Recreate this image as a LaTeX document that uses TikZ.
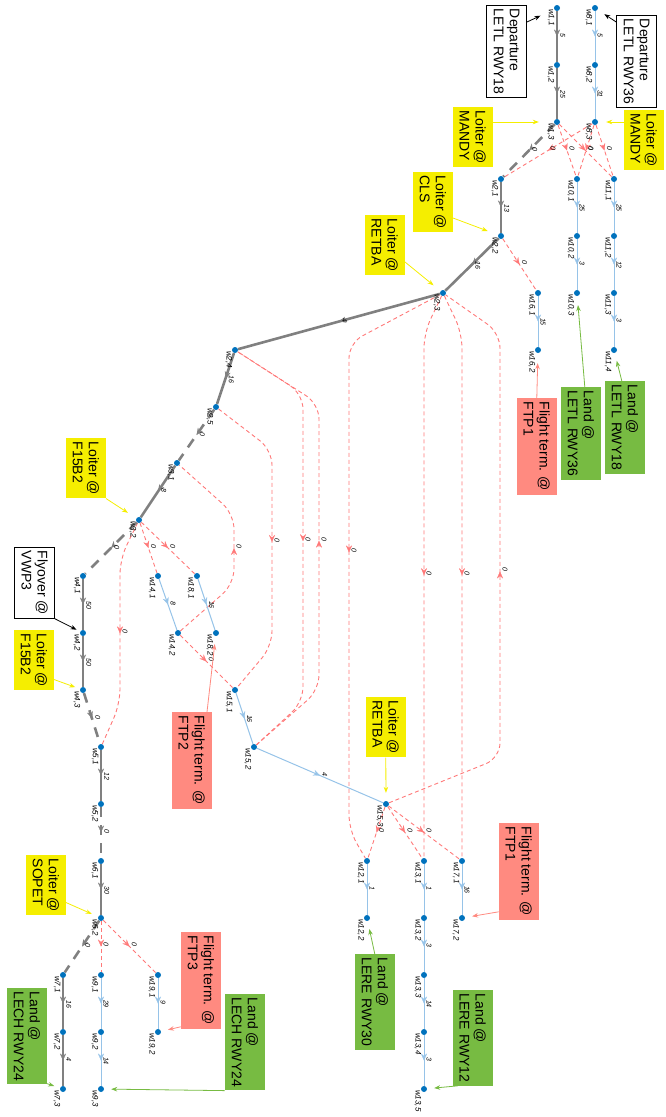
\documentclass[tikz,border=0pt]{standalone}
\usepackage{fontspec}
\setmainfont{Liberation Sans}
\usetikzlibrary{arrows.meta,decorations.markings,calc,backgrounds}

\definecolor{dotblue}{RGB}{0,114,189}
\definecolor{pathgray}{RGB}{128,128,128}
\definecolor{legblue}{RGB}{150,195,232}
\definecolor{altred}{RGB}{255,120,120}
\definecolor{loiteryel}{RGB}{245,238,0}
\definecolor{landgreen}{RGB}{119,187,66}
\definecolor{termred}{RGB}{255,138,128}

\tikzset{
  wp/.style={circle,fill=dotblue,inner sep=0pt,minimum size=6pt},
  wlab/.style={font=\fontsize{8}{8}\selectfont\itshape,inner sep=0pt,rotate=-90,anchor=north west},
  elab/.style={font=\fontsize{7}{7}\selectfont\itshape,inner sep=0pt,rotate=-90,anchor=south west},
  tipmark/.style={postaction={decorate,decoration={markings,mark=at position 0.5 with {%
      \arrow{Stealth[length=7pt,width=6pt,inset=2.5pt,line width=0.2pt]}%
      \pgftransformresetnontranslations
      \node[elab] at (2pt,4pt) {#1};}}}},
  mainleg/.style={draw=pathgray,line width=2.6pt,tipmark=#1},
  mainjump/.style={draw=pathgray,line width=2.6pt,dash pattern=on 10pt off 8pt,tipmark=#1},
  altleg/.style={draw=legblue,line width=1pt,tipmark=#1},
  altjump/.style={draw=altred,line width=0.9pt,dash pattern=on 4pt off 3pt,rounded corners=15pt,tipmark=#1},
  box/.style={rotate=-90,anchor=north west,align=left,font=\fontsize{14}{16}\selectfont,
      inner xsep=3.5pt,inner ysep=0pt,minimum height=40pt},
  whitebox/.style={box,fill=white,draw=black,line width=0.8pt},
  loiterbox/.style={box,fill=loiteryel},
  landbox/.style={box,fill=landgreen},
  termbox/.style={box,fill=termred},
  callout/.style={line width=0.8pt,-{Stealth[length=6pt,width=4.5pt]},shorten >=#1},
}

\newcommand\waypoint[4]{\node[wp] (#1) at (#2,#3) {}; \node[wlab] (#1l) at ($(#1)+(-2.5,1)$) {#4};}

\begin{document}
\begin{tikzpicture}[x=1pt,y=-1pt]
\useasboundingbox (0,0) rectangle (666,1117);

% waypoints
\waypoint{w1x1}{557}{8}{w1,1}
\waypoint{w1x2}{557}{65}{w1,2}
\waypoint{w1x3}{557}{122}{w1,3}
\waypoint{w8x1}{595}{8}{w8,1}
\waypoint{w8x2}{595}{65}{w8,2}
\waypoint{w8x3}{595}{122}{w8,3}
\waypoint{w2x1}{501}{179}{w2,1}
\waypoint{w2x2}{501}{236}{w2,2}
\waypoint{w2x3}{443}{293}{w2,3}
\waypoint{w2x4}{235}{350}{w2,4}
\waypoint{w2x5}{216}{407}{w2,5}
\waypoint{w10x1}{577}{179}{w10,1}
\waypoint{w10x2}{577}{236}{w10,2}
\waypoint{w10x3}{577}{293}{w10,3}
\waypoint{w11x1}{614}{179}{w11,1}
\waypoint{w11x2}{614}{236}{w11,2}
\waypoint{w11x3}{614}{293}{w11,3}
\waypoint{w11x4}{614}{350}{w11,4}
\waypoint{w16x1}{538}{293}{w16,1}
\waypoint{w16x2}{538}{350}{w16,2}
\waypoint{w3x1}{177}{463}{w3,1}
\waypoint{w3x2}{139}{520}{w3,2}
\waypoint{w4x1}{83}{576}{w4,1}
\waypoint{w4x2}{83}{633}{w4,2}
\waypoint{w4x3}{83}{690}{w4,3}
\waypoint{w14x1}{158}{576}{w14,1}
\waypoint{w14x2}{178}{633}{w14,2}
\waypoint{w18x1}{197}{576}{w18,1}
\waypoint{w18x2}{216}{633}{w18,2}
\waypoint{w15x1}{235}{690}{w15,1}
\waypoint{w15x2}{254}{747}{w15,2}
\waypoint{w15x3}{386}{804}{w15,3}
\waypoint{w5x1}{101}{747}{w5,1}
\waypoint{w5x2}{101}{804}{w5,2}
\waypoint{w6x1}{101}{861}{w6,1}
\waypoint{w6x2}{101}{918}{w6,2}
\waypoint{w7x1}{63}{975}{w7,1}
\waypoint{w7x2}{63}{1032}{w7,2}
\waypoint{w7x3}{63}{1089}{w7,3}
\waypoint{w9x1}{101}{975}{w9,1}
\waypoint{w9x2}{101}{1032}{w9,2}
\waypoint{w9x3}{101}{1089}{w9,3}
\waypoint{w19x1}{158}{975}{w19,1}
\waypoint{w19x2}{158}{1032}{w19,2}
\waypoint{w12x1}{367}{861}{w12,1}
\waypoint{w12x2}{367}{918}{w12,2}
\waypoint{w13x1}{424}{861}{w13,1}
\waypoint{w13x2}{424}{918}{w13,2}
\waypoint{w13x3}{424}{975}{w13,3}
\waypoint{w13x4}{424}{1032}{w13,4}
\waypoint{w13x5}{424}{1089}{w13,5}
\waypoint{w17x1}{462}{861}{w17,1}
\waypoint{w17x2}{462}{918}{w17,2}

\begin{scope}[on background layer]
% alternative transitions (dashed red)
\draw[altjump=0] (w1x3) -- (w10x1);
\draw[altjump=0] (w1x3) -- (w11x1);
\draw[altjump=0] (w8x3) -- (w2x1);
\draw[altjump=0] (w8x3) -- (w10x1);
\draw[altjump=0] (w8x3) -- (w11x1);
\draw[altjump=0] (w2x2) -- (w16x1);
\draw[altjump=0] (w3x2) -- (w14x1);
\draw[altjump=0] (w3x2) -- (w18x1);
\draw[altjump=0] (w14x2) -- (w15x1);
\draw[altjump=0] (w15x3) -- (w12x1);
\draw[altjump=0] (w15x3) -- (w13x1);
\draw[altjump=0] (w15x3) -- (w17x1);
\draw[altjump=0] (w6x2) -- (w9x1);
\draw[altjump=0] (w6x2) -- (w19x1);
\draw[altjump=0] (w2x3) -- (349,343) -- (349,830) -- (w12x1);
\draw[altjump=0] (w2x3) -- (424,333) -- (w13x1);
\draw[altjump=0] (w2x3) -- (462,333) -- (w17x1);
\draw[altjump=0] (w15x3) -- (500,758) -- (500,333) -- (w2x3);
\draw[altjump=0] (w2x4) -- (303,394) -- (303,702) -- (w15x2);
\draw[altjump=0] (w15x2) -- (319,690) -- (319,404) -- (w2x4);
\draw[altjump=0] (w2x5) -- (272,450) -- (272,646) -- (w15x1);
\draw[altjump=0] (w14x2) -- (234,584) -- (234,514) -- (w3x1);
\draw[altjump=0] (w3x2) -- (120,559) -- (120,704) -- (w5x1);

% alternative legs (light blue)
\draw[altleg=5] (w8x1) -- (w8x2);
\draw[altleg=31] (w8x2) -- (w8x3);
\draw[altleg=25] (w10x1) -- (w10x2);
\draw[altleg=3] (w10x2) -- (w10x3);
\draw[altleg=25] (w11x1) -- (w11x2);
\draw[altleg=12] (w11x2) -- (w11x3);
\draw[altleg=3] (w11x3) -- (w11x4);
\draw[altleg=15] (w16x1) -- (w16x2);
\draw[altleg=8] (w14x1) -- (w14x2);
\draw[altleg=16] (w18x1) -- (w18x2);
\draw[altleg=16] (w15x1) -- (w15x2);
\draw[altleg=4] (w15x2) -- (w15x3);
\draw[altleg=1] (w12x1) -- (w12x2);
\draw[altleg=1] (w13x1) -- (w13x2);
\draw[altleg=3] (w13x2) -- (w13x3);
\draw[altleg=14] (w13x3) -- (w13x4);
\draw[altleg=3] (w13x4) -- (w13x5);
\draw[altleg=16] (w17x1) -- (w17x2);
\draw[altleg=29] (w9x1) -- (w9x2);
\draw[altleg=14] (w9x2) -- (w9x3);
\draw[altleg=9] (w19x1) -- (w19x2);

% main route (gray)
\draw[mainleg=5] (w1x1) -- (w1x2);
\draw[mainleg=25] (w1x2) -- (w1x3);
\draw[mainjump=0] (w1x3) -- (w2x1);
\draw[mainleg=13] (w2x1) -- (w2x2);
\draw[mainleg=16] (w2x2) -- (w2x3);
\draw[mainleg=4] (w2x3) -- (w2x4);
\draw[mainleg=16] (w2x4) -- (w2x5);
\draw[mainjump=0] (w2x5) -- (w3x1);
\draw[mainleg=8] (w3x1) -- (w3x2);
\draw[mainjump=0] (w3x2) -- (w4x1);
\draw[mainleg=50] (w4x1) -- (w4x2);
\draw[mainleg=50] (w4x2) -- (w4x3);
\draw[mainjump=0] (w4x3) -- (w5x1);
\draw[mainleg=12] (w5x1) -- (w5x2);
\draw[mainjump=0] (w5x2) -- (w6x1);
\draw[mainleg=30] (w6x1) -- (w6x2);
\draw[mainjump=0] (w6x2) -- (w7x1);
\draw[mainleg=16] (w7x1) -- (w7x2);
\draw[mainleg=4] (w7x2) -- (w7x3);
\end{scope}

% annotation boxes
\node[whitebox] (b1) at (527,5) {Departure\\LETL RWY18};
\node[whitebox] (b2) at (657,15) {Departure\\LETL RWY36};
\node[loiterbox] (b3) at (493,107) {Loiter @\\MANDY};
\node[loiterbox] (b4) at (664,110) {Loiter @\\MANDY};
\node[loiterbox] (b5) at (453,172) {Loiter @\\CLS};
\node[loiterbox] (b6) at (405,215) {Loiter @\\RETBA};
\node[loiterbox] (b7) at (106,438) {Loiter @\\F15B2};
\node[whitebox] (b8) at (55,547) {Flyover @\\VWP3};
\node[loiterbox] (b9) at (54,630) {Loiter @\\F15B2};
\node[termbox] (b10) at (212,712) {Flight term. @\\FTP2};
\node[loiterbox] (b11) at (66,855) {Loiter @\\SOPET};
\node[termbox] (b12) at (221,932) {Flight term. @\\FTP3};
\node[landbox] (b13) at (47,988) {Land @\\LECH RWY24};
\node[landbox] (b14) at (265,994) {Land @\\LECH RWY24};
\node[loiterbox] (b15) at (406,697) {Loiter @\\RETBA};
\node[termbox] (b16) at (539,823) {Flight term. @\\FTP1};
\node[landbox] (b17) at (395,954) {Land @\\LERE RWY30};
\node[landbox] (b18) at (493,990) {Land @\\LERE RWY12};
\node[termbox] (b19) at (557,398) {Flight term. @\\FTP1};
\node[landbox] (b20) at (601,387) {Land @\\LETL RWY36};
\node[landbox] (b21) at (645,381) {Land @\\LETL RWY18};

% callout arrows
\draw[callout=15pt,black] ($(b1.north west)+(0,17)$) -- (w1x1);
\draw[callout=8pt,black] ($(b2.south west)+(0,7)$) -- (w8x1);
\draw[callout=15pt,loiteryel] ($(b3.north west)+(0,15)$) -- (w1x3);
\draw[callout=8pt,loiteryel] ($(b4.south west)+(0,12)$) -- (w8x3);
\draw[callout=11pt,loiteryel] ($(b5.north west)+(0,46)$) -- (w2x2);
\draw[callout=9pt,loiteryel] ($(b6.north west)+(0,47)$) -- (w2x3);
\draw[callout=10pt,loiteryel] (b7.north east) -- (w3x2);
\draw[callout=4pt,black] (b8.north east) -- (w4x2);
\draw[callout=5pt,loiteryel] ($(b9.north east)+(0,-11)$) -- (w4x3);
\draw[callout=8pt,termred] ($(b10.north west)+(-5,0)$) -- (w18x2);
\draw[callout=7pt,loiteryel] ($(b11.north east)+(0,-13)$) -- (w6x2);
\draw[callout=7pt,termred] ($(b12.south east)+(0,-2)$) -- (w19x2);
\draw[callout=6pt,landgreen] ($(b13.north east)+(0,-1)$) -- (w7x3);
\draw[callout=7pt,landgreen] (b14.south east) -- (w9x3);
\draw[callout=8pt,loiteryel] (b15.east) -- (w15x3);
\draw[callout=7pt,termred] ($(b16.south east)+(0,-8)$) -- (w17x2);
\draw[callout=8pt,landgreen] (b17.west) -- (w12x2);
\draw[callout=7pt,landgreen] ($(b18.south east)+(5,0)$) -- (w13x5);
\draw[callout=10pt,termred] (b19.west) -- (w16x2);
\draw[callout=9pt,landgreen] ($(b20.west)+(4,0)$) -- (w10x3);
\draw[callout=8pt,landgreen] ($(b21.west)+(-3,0)$) -- (w11x4);
\end{tikzpicture}
\end{document}
